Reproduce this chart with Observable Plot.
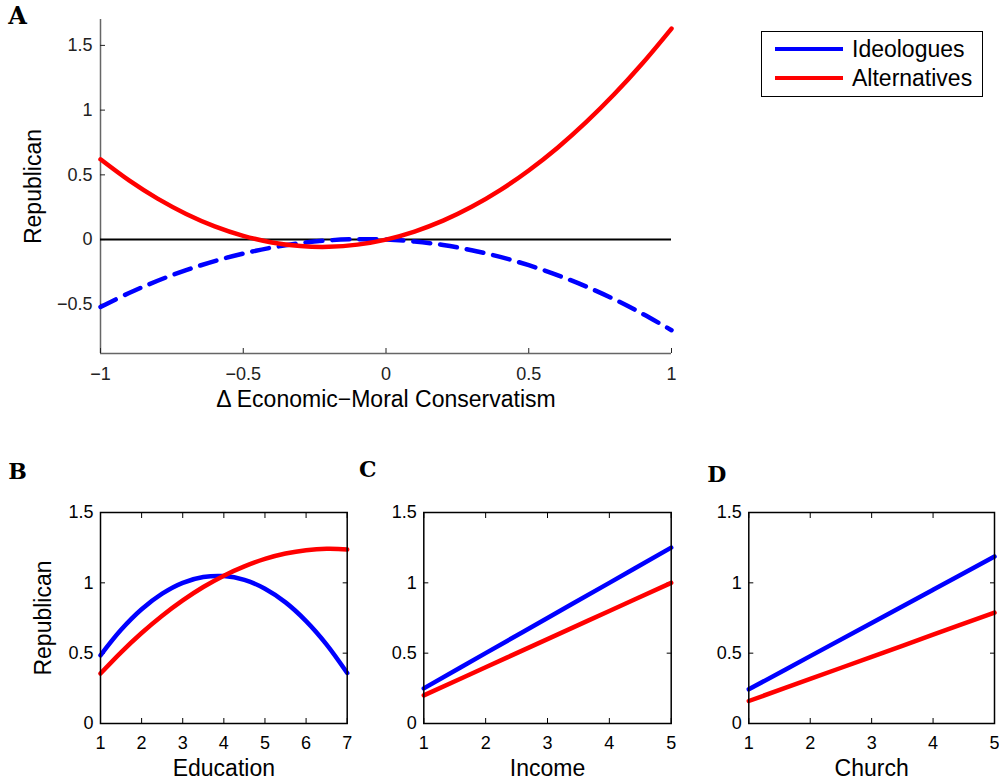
<!DOCTYPE html>
<html><head><meta charset="utf-8">
<script src="https://cdn.jsdelivr.net/npm/d3@7"></script>
<script src="https://cdn.jsdelivr.net/npm/@observablehq/plot@0.6"></script>
<style>
body{margin:0;background:#fff;}
#root{position:relative;width:999px;height:784px;font-family:"Liberation Sans",Arial,sans-serif;color:#000;overflow:hidden;}
.panel{position:absolute;}
.panel svg{overflow:visible;}
#legend{position:absolute;left:761px;top:31px;width:220px;height:64px;border:1px solid #000;background:#fff;font-size:23px;}
#legend .ln{position:absolute;left:13px;width:68px;height:4px;}
#legend .tx{position:absolute;left:90px;line-height:26px;white-space:nowrap;}
</style>
</head><body>
<div id="root">
  <div class="panel" id="pA" style="left:0;top:0"></div>
  <div class="panel" id="pB" style="left:0;top:440px"></div>
  <div class="panel" id="pC" style="left:380px;top:440px"></div>
  <div class="panel" id="pD" style="left:700px;top:440px"></div>
  <div id="legend"></div>
</div>
<script>
// ---------- data ----------
const seriesNames = ["Ideologues", "Alternatives"];
const seriesColors = ["#0000ff", "#ff0000"];

const aX = [-1,-0.9,-0.8,-0.7,-0.6,-0.5,-0.4,-0.3,-0.2,-0.1,0,0.1,0.2,0.3,0.4,0.5,0.6,0.7,0.8,0.9,1];
const aIdeologues = [-0.52,-0.413,-0.318,-0.236,-0.166,-0.108,-0.062,-0.028,-0.006,0.003,0,-0.015,-0.042,-0.082,-0.134,-0.198,-0.274,-0.362,-0.462,-0.575,-0.70];
const aAlternatives = [0.62,0.457,0.316,0.198,0.102,0.029,-0.022,-0.050,-0.056,-0.039,0,0.062,0.146,0.253,0.382,0.534,0.708,0.905,1.124,1.366,1.63];

const eduX = [1,1.5,2,2.5,3,3.5,4,4.5,5,5.5,6,6.5,7];
const eduIdeologues = [0.485,0.666,0.812,0.923,1.0,1.041,1.048,1.021,0.958,0.861,0.728,0.561,0.359];
const eduAlternatives = [0.355,0.506,0.643,0.766,0.875,0.970,1.051,1.117,1.170,1.208,1.232,1.242,1.237];

const incX = [1,2,3,4,5];
const incIdeologues = [0.25,0.5,0.75,1.0,1.25];
const incAlternatives = [0.2,0.4,0.6,0.8,1.0];

const chX = [1,2,3,4,5];
const chIdeologues = [0.243,0.479,0.715,0.951,1.187];
const chAlternatives = [0.16,0.317,0.474,0.631,0.788];

const aXDomain = [-1, 1];
const aYDomain = [-0.88, 1.7];
const aXTicks = [-1,-0.5,0,0.5,1];
const aYTicks = [-0.5,0,0.5,1,1.5];
const smallYDomain = [0, 1.5];
const smallYTicks = [0,0.5,1,1.5];
const eduTicks = [1,2,3,4,5,6,7];
const fiveTicks = [1,2,3,4,5];

// ---------- helpers ----------
const fmt = d3.format("");
const FF = '"Liberation Sans", Arial, sans-serif';
const LETTER_FF = '"DejaVu Serif", "Liberation Serif", serif';
const TICK_FS = 18;
const LABEL_FS = 23;
const LW = 4.5;
const rows = (xs, ys) => xs.map((x, i) => ({x, y: ys[i]}));

// ---------- panel A ----------
const plotA = Plot.plot({
  width: 700, height: 420,
  marginLeft: 100, marginRight: 29, marginTop: 19, marginBottom: 67,
  style: {fontFamily: FF, fontSize: TICK_FS + "px", color: "black", background: "transparent", overflow: "visible"},
  x: {domain: aXDomain},
  y: {domain: aYDomain},
  marks: [
    Plot.ruleX([aXDomain[0]], {stroke: "#666", strokeWidth: 1.5}),
    Plot.ruleY([aYDomain[0]], {stroke: "#666", strokeWidth: 1.5}),
    Plot.axisX(aXTicks, {anchor: "bottom", tickSize: -5, tickPadding: 19, tickFormat: fmt, label: null, fontSize: TICK_FS, color: "#222"}),
    Plot.axisY(aYTicks, {anchor: "left", tickSize: -5, tickPadding: 13, tickFormat: fmt, label: null, fontSize: TICK_FS, color: "#222"}),
    Plot.ruleY([0], {stroke: "black", strokeWidth: 2}),
    Plot.line(rows(aX, aIdeologues), {x: "x", y: "y", stroke: seriesColors[0], strokeWidth: LW, strokeDasharray: "17,10", curve: "catmull-rom"}),
    Plot.line(rows(aX, aAlternatives), {x: "x", y: "y", stroke: seriesColors[1], strokeWidth: LW, curve: "catmull-rom"}),
    Plot.text(["Δ Economic−Moral Conservatism"], {text: d => d, frameAnchor: "bottom", dy: 46, fontSize: LABEL_FS, textAnchor: "middle", lineAnchor: "middle", fill: "black"}),
    Plot.text(["Republican"], {text: d => d, frameAnchor: "left", dx: -67, rotate: -90, fontSize: LABEL_FS, textAnchor: "middle", lineAnchor: "middle", fill: "black"}),
    Plot.text(["A"], {text: d => d, frameAnchor: "top-left", dx: -83, dy: -3, fontSize: 24, fontWeight: "bold", fontFamily: LETTER_FF, textAnchor: "middle", lineAnchor: "middle", fill: "black"})
  ]
});
document.getElementById("pA").appendChild(plotA);

// ---------- small panels ----------
function smallPanel({xs, ideol, alt, xTicks, label, letter, letterDx, letterDy, width, marginLeft, marginRight, ylabel}) {
  const marks = [
    Plot.axisX(xTicks, {anchor: "bottom", tickSize: -5, tickPadding: 18, tickFormat: fmt, label: null, fontSize: TICK_FS, color: "black"}),
    Plot.axisX(xTicks, {anchor: "top", tickSize: -5, tickFormat: () => "", label: null, color: "black"}),
    Plot.axisY(smallYTicks, {anchor: "left", tickSize: -5, tickPadding: 12, tickFormat: fmt, label: null, fontSize: TICK_FS, color: "black"}),
    Plot.axisY(smallYTicks, {anchor: "right", tickSize: -5, tickFormat: () => "", label: null, color: "black"}),
    Plot.line(rows(xs, ideol), {x: "x", y: "y", stroke: seriesColors[0], strokeWidth: LW, curve: "catmull-rom"}),
    Plot.line(rows(xs, alt), {x: "x", y: "y", stroke: seriesColors[1], strokeWidth: LW, curve: "catmull-rom"}),
    Plot.frame({stroke: "black", strokeWidth: 1.5}),
    Plot.text([label], {text: d => d, frameAnchor: "bottom", dy: 45, fontSize: LABEL_FS, textAnchor: "middle", lineAnchor: "middle", fill: "black"}),
    Plot.text([letter], {text: d => d, frameAnchor: "top-left", dx: letterDx, dy: letterDy, fontSize: 22, fontWeight: "bold", fontFamily: LETTER_FF, textAnchor: "middle", lineAnchor: "middle", fill: "black"})
  ];
  if (ylabel) marks.push(Plot.text([ylabel], {text: d => d, frameAnchor: "left", dx: -57, rotate: -90, fontSize: LABEL_FS, textAnchor: "middle", lineAnchor: "middle", fill: "black"}));
  return Plot.plot({
    width, height: 344,
    marginLeft, marginRight, marginTop: 72, marginBottom: 61,
    style: {fontFamily: FF, fontSize: TICK_FS + "px", color: "black", background: "transparent", overflow: "visible"},
    x: {domain: [xs[0], xs[xs.length - 1]]},
    y: {domain: smallYDomain},
    marks
  });
}

document.getElementById("pB").appendChild(smallPanel({
  xs: eduX, ideol: eduIdeologues, alt: eduAlternatives, xTicks: eduTicks,
  label: "Education", letter: "B", letterDx: -83, letterDy: -41,
  width: 360, marginLeft: 100, marginRight: 13.3, ylabel: "Republican"
}));
document.getElementById("pC").appendChild(smallPanel({
  xs: incX, ideol: incIdeologues, alt: incAlternatives, xTicks: fiveTicks,
  label: "Income", letter: "C", letterDx: -56, letterDy: -43,
  width: 300, marginLeft: 43.3, marginRight: 9.3
}));
document.getElementById("pD").appendChild(smallPanel({
  xs: chX, ideol: chIdeologues, alt: chAlternatives, xTicks: fiveTicks,
  label: "Church", letter: "D", letterDx: -32, letterDy: -38,
  width: 299, marginLeft: 48.3, marginRight: 5
}));

// ---------- legend ----------
const legend = document.getElementById("legend");
seriesNames.forEach((name, i) => {
  const cy = 17 + i * 29;
  const ln = document.createElement("div");
  ln.className = "ln";
  ln.style.top = (cy - 2) + "px";
  ln.style.background = seriesColors[i];
  const tx = document.createElement("div");
  tx.className = "tx";
  tx.style.top = (cy - 13) + "px";
  tx.textContent = name;
  legend.appendChild(ln);
  legend.appendChild(tx);
});
</script>
</body></html>
